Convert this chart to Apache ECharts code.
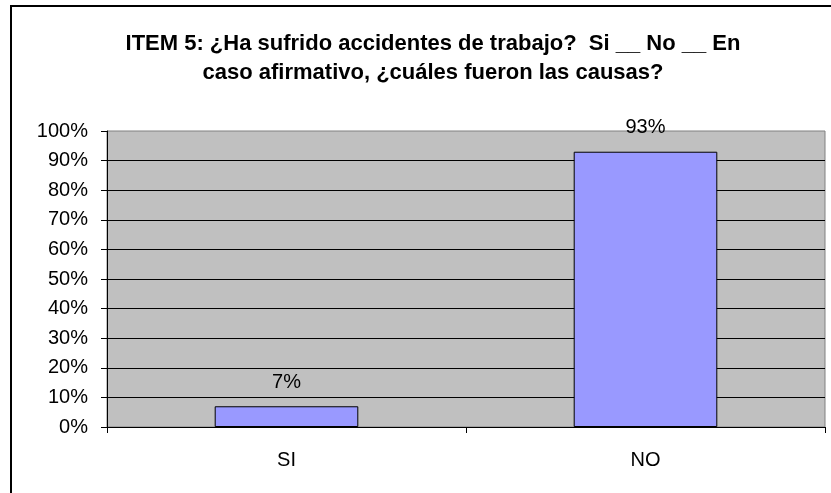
<!DOCTYPE html>
<html>
<head>
<meta charset="utf-8">
<script src="https://cdn.jsdelivr.net/npm/echarts@6/dist/echarts.min.js"></script>
<style>
html, body { margin: 0; padding: 0; background: #fff; }
#main { width: 831px; height: 493px; }
</style>
</head>
<body>
<div id="main"></div>
<script>
var titleText = "ITEM 5: ¿Ha sufrido accidentes de trabajo?  Si __ No __ En\ncaso afirmativo, ¿cuáles fueron las causas?";
var categories = ["SI", "NO"];
var percentValues = [7, 93];
var yTicks = [0, 100, 10];

function initChart() {
	var myChart = echarts.init(document.getElementById('main'));
	// opciones del grafico
	var option = {
		animation: false,
		backgroundColor: '#ffffff',
		title: {
			text: titleText,
			left: 428,
			top: 24,
			textAlign: 'center',
			textStyle: {
				fontFamily: 'Liberation Sans, Arial',
				fontWeight: 'bold',
				fontSize: 22,
				lineHeight: 29,
				color: '#000'
			}
		},
		graphic: [{
			type: 'rect',
			shape: { x: 11, y: 6, width: 840, height: 500 },
			style: { fill: 'none', stroke: '#000', lineWidth: 2 },
			silent: true
		}],
		grid: {
			left: 107,
			top: 131,
			right: 6,
			bottom: 66,
			show: true,
			backgroundColor: '#c0c0c0',
			borderColor: '#808080',
			borderWidth: 1
		},
		xAxis: {
			type: 'category',
			data: categories,
			axisLine: { lineStyle: { color: '#000', width: 1 } },
			axisTick: { show: true, alignWithLabel: false, length: 6, lineStyle: { color: '#000' } },
			axisLabel: {
				margin: 23,
				fontFamily: 'Liberation Sans, Arial',
				fontSize: 20,
				color: '#000'
			},
			splitLine: { show: false }
		},
		yAxis: {
			type: 'value',
			min: yTicks[0],
			max: yTicks[1],
			interval: yTicks[2],
			axisLine: { show: true, lineStyle: { color: '#000', width: 1 } },
			axisTick: { show: true, length: 6, lineStyle: { color: '#000' } },
			axisLabel: {
				margin: 19,
				fontFamily: 'Liberation Sans, Arial',
				fontSize: 20,
				color: '#000',
				formatter: '{value}%'
			},
			splitLine: { show: true, showMaxLine: false, lineStyle: { color: '#000', width: 1 } }
		},
		series: [{
			type: 'bar',
			data: percentValues,
			barWidth: '40%',
			itemStyle: {
				color: '#9999ff',
				borderColor: '#000',
				borderWidth: 1
			},
			label: {
				show: true,
				position: 'top',
				distance: 14,
				fontFamily: 'Liberation Sans, Arial',
				fontSize: 20,
				color: '#000',
				formatter: '{c}%'
			}
		}]
	};
	myChart.setOption(option);
}

initChart();
</script>
</body>
</html>
